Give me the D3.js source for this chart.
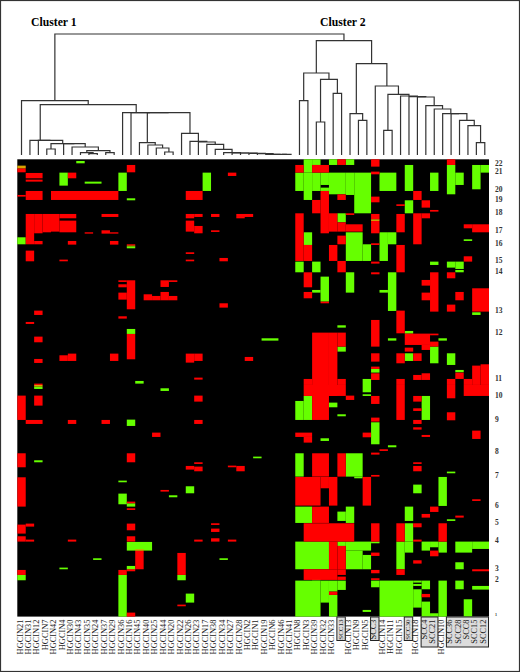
<!DOCTYPE html>
<html>
<head>
<meta charset="utf-8">
<script src="https://cdn.jsdelivr.net/npm/d3@7"></script>
<style>
html, body { margin: 0; padding: 0; background: #fff; }
svg { display: block; }
</style>
</head>
<body>
<div id="chart"></div>
<script>
var sampleLabels = ["HGCIN21","HGCIN31","HGCIN12","HGCIN7","HGCIN42","HGCIN4","HGCIN30","HGCIN43","HGCIN35","HGCIN24",
    "HGCIN37","HGCIN29","HGCIN36","HGCIN16","HGCIN45","HGCIN40","HGCIN25","HGCIN44","HGCIN20","HGCIN22",
    "HGCIN26","HGCIN23","HGCIN17","HGCIN38","HGCIN34","HGCIN27","HGCIN28","HGCIN2","HGCIN1","HGCIN19",
    "HGCIN6","HGCIN46","HGCIN41","HGCIN8","HGCIN3","HGCIN39","HGCIN32","HGCIN33","SCC13","HGCIN13",
    "HGCIN9","HGCIN5","SCC3","HGCIN14","HGCIN11","HGCIN15","SCC30","HGCIN18","SCC4","SCC21",
    "HGCIN10","SCC36","SCC28","SCC8","SCC15","SCC12"];

var chromLabels = ["22","21","20","19","18","17","16","15","14","13","12","11","10","9","8","7","6","5","4","3","2","1"];
var chromProbes = [13,36,90,119,158,213,252,302,336,452,519,657,708,780,877,948,1038,1088,1143,1226,1260,1367];

var clusterNames = ["Cluster 1","Cluster 2"];
var probeCount = 1372;

// [first column, last column, first probe, last probe]
var redLeft = [[13,13,17,39],[0,0,27,39],[1,2,41,57],[1,2,61,67],[6,6,40,57],[25,25,40,50],[0,0,107,112],[1,2,95,122],
    [4,11,95,122],[20,21,95,122],[1,1,164,255],[2,2,164,222],[2,2,245,255],[3,3,164,219],[4,4,164,217],[5,6,164,177],
    [5,6,184,219],[10,11,164,173],[20,20,164,177],[21,21,164,173],[20,20,184,217],[21,21,200,222],[23,23,164,173],
    [26,27,164,173],[26,26,173,177],[8,8,219,223],[10,10,213,223],[11,11,219,223],[23,23,213,218],[6,6,245,256],
    [11,11,245,256],[13,13,255,259],[1,1,274,306],[5,5,301,306],[20,20,279,284],[20,20,301,306],[24,24,296,306],
    [12,12,363,368],[12,12,375,384],[12,12,400,421],[13,13,363,450],[15,15,405,423],[16,16,410,423],[17,17,398,423],
    [18,18,410,423],[17,17,363,383],[18,18,363,368],[24,24,432,445],[2,2,454,467],[12,12,471,478],[1,1,488,494],
    [13,13,524,600],[2,2,532,549],[2,2,599,611],[5,5,588,605],[6,6,583,605],[11,11,583,605],[20,20,583,610],
    [21,21,583,605],[27,27,593,605],[21,21,655,661],[2,2,673,677],
    [0,0,709,782],[2,2,709,739],[1,2,782,794],[6,6,782,794],[10,10,782,794],[21,21,709,727],[21,21,782,794],
    [16,16,820,833],[0,0,882,924],[13,13,882,909],[21,21,909,914],[20,20,920,931],[21,21,922,936],[25,25,919,924],
    [26,26,920,936],[0,0,954,1042],[17,17,992,997],[13,13,1027,1032],[13,13,1047,1052],[0,0,1096,1123],[1,1,1093,1102],
    [13,13,1093,1113],[23,23,1092,1097],[23,23,1108,1118],[23,23,1137,1147],[0,0,1131,1147],[1,1,1141,1147],
    [6,6,1141,1147],[21,21,1141,1147],[25,25,1141,1147],[13,13,1131,1147],[14,14,1174,1230],[19,19,1181,1247],
    [12,12,1232,1247],[13,13,1230,1236],[0,0,1232,1247],[19,19,1336,1341],[13,13,1360,1372]];

var redRight = [[38,38,0,17],[42,42,0,22],[51,51,0,17],[33,33,17,40],[35,36,17,40],[42,42,37,45],[36,36,95,222],
    [35,35,122,162],[37,37,162,217],[38,38,105,122],[38,38,189,217],[39,40,195,217],[33,33,162,305],[34,34,257,305],
    [38,38,229,255],[37,37,257,305],[38,38,305,339],[42,42,112,129],[42,42,164,180],[42,42,185,222],[42,42,252,257],
    [42,42,307,313],[42,42,339,345],[39,39,162,167],[45,45,135,140],[45,45,164,219],[45,45,257,339],[47,47,95,122],
    [48,48,123,145],[47,47,162,255],[48,48,162,177],[49,49,152,157],[53,53,291,307],[53,53,195,207],[54,55,195,219],
    [34,34,339,384],[34,34,398,417],[36,36,427,432],[49,49,339,457],[48,48,362,379],[48,48,400,423],[51,51,339,357],
    [52,52,398,423],[51,51,436,457],[54,55,387,457],[45,45,454,522],[46,48,523,557],[49,49,523,528],[48,48,557,572],
    [49,49,547,562],[46,46,565,577],[42,42,482,562],[35,36,520,782],[37,37,520,710],[38,38,520,562],[42,42,582,607],
    [42,42,622,629],[42,42,642,662],[45,45,582,612],[47,47,582,605],[52,52,640,659],[51,51,659,677],[53,53,659,677],
    [54,54,619,677],[55,55,615,677],[47,47,647,662],[48,48,642,662],[34,34,659,677],[38,38,659,677],[45,45,659,677],
    [34,38,677,710],[45,45,677,782],[51,51,677,717],[53,55,677,710],[39,39,709,722],[42,42,710,734],[42,42,775,787],
    [41,41,820,834],[47,47,710,727],[47,47,747,755],[47,47,782,794],[47,47,804,811],[48,48,827,833],[51,51,759,783],
    [54,54,814,839],[33,34,820,833],[34,34,833,850],[43,43,870,875],[42,42,880,886],[35,36,882,952],[38,38,882,952],
    [42,42,947,952],[47,47,909,914],[47,47,920,936],[33,35,953,1039],[36,36,953,987],[37,37,953,1039],[41,41,953,1039],
    [54,54,1020,1025],[49,49,1042,1058],[48,48,1064,1075],[52,52,1069,1075],[35,36,1042,1091],[47,47,1092,1104],
    [34,39,1092,1147],[42,42,1092,1147],[45,45,1092,1147],[47,47,1141,1147],[50,50,1092,1147],[37,37,1147,1230],
    [38,38,1160,1230],[42,42,1180,1190],[49,49,1174,1191],[47,47,1203,1213],[45,45,1230,1247],[42,42,1232,1242],
    [54,55,1230,1236],[34,37,1230,1262],[38,38,1230,1247],[38,38,1252,1262],[42,42,1257,1262],[37,37,1297,1307],
    [48,48,1304,1314]];

var greenLeft = [[7,7,5,12],[5,5,40,79],[8,9,67,73],[12,12,40,95],[22,22,40,95],[13,13,117,123],[0,0,234,255],
    [13,13,261,267],[13,13,509,524],[14,14,665,673],[2,2,682,689],[17,17,687,695],[13,13,781,800],[2,2,903,909],
    [28,28,892,897],[12,12,964,969],[18,18,1008,1014],[20,20,981,1002],[12,12,1003,1035],[13,13,1032,1042],
    [13,15,1148,1174],[13,13,1220,1231],[19,19,1247,1263],[9,9,1197,1202],[24,24,1197,1202],[5,5,1225,1230],
    [0,0,1247,1263],[12,12,1247,1372],[20,20,1303,1330]];

var greenRight = [[34,34,0,40],[35,35,0,17],[37,37,0,17],[39,39,0,17],[51,51,17,105],[52,52,40,77],[46,46,17,95],
    [54,54,17,90],[55,55,17,40],[33,33,40,95],[34,34,40,122],[35,35,40,95],[36,36,40,77],[36,36,85,95],[37,38,40,105],
    [39,39,40,107],[40,41,40,162],[43,44,40,95],[49,49,40,95],[46,46,123,162],[38,38,162,189],[34,34,219,257],
    [39,40,219,305],[41,41,255,305],[43,43,219,305],[44,44,219,255],[33,33,307,339],[35,35,307,339],[36,36,352,427],
    [35,35,392,400],[39,39,339,400],[44,44,339,455],[43,43,392,400],[49,49,307,317],[51,51,307,325],[52,52,307,329],
    [52,52,332,339],[53,53,240,245],[54,54,459,467],[46,46,515,523],[38,38,498,505],[44,44,537,544],[50,50,537,544],
    [29,30,537,544],[38,38,562,577],[42,42,629,640],[46,46,582,605],[49,49,562,612],[51,51,582,617],[52,52,632,639],
    [41,41,659,699],[41,41,705,710],[33,33,725,782],[34,34,710,782],[37,37,730,744],[38,38,765,771],[48,48,710,782],
    [42,42,789,855],[36,36,837,845],[44,44,858,864],[33,33,882,952],[39,40,882,952],[40,40,952,957],[51,51,937,942],
    [47,47,976,1002],[50,50,953,1040],[33,34,1042,1091],[38,38,1057,1085],[39,39,1042,1091],[46,46,1042,1085],
    [51,51,1080,1085],[46,46,1092,1147],[33,36,1147,1230],[38,38,1147,1160],[39,41,1147,1174],[39,40,1174,1230],
    [41,41,1187,1230],[42,42,1147,1152],[45,45,1147,1230],[46,46,1147,1180],[48,48,1147,1174],[49,49,1147,1164],
    [50,50,1147,1180],[52,53,1147,1180],[54,55,1147,1169],[52,52,1209,1230],[33,35,1264,1372],[36,36,1264,1330],
    [37,37,1264,1297],[37,37,1307,1372],[38,38,1264,1292],[35,35,1247,1263],[41,41,1352,1358],[42,42,1264,1284],
    [43,46,1264,1372],[47,47,1264,1270],[47,47,1274,1280],[47,47,1290,1345],[48,48,1264,1290],[48,48,1327,1372],
    [49,49,1362,1372],[50,50,1264,1372],[52,52,1264,1290],[53,53,1320,1372],[54,55,1280,1291]];

var mixedRuns = [[0,0,19,27],[13,13,259,261],[2,2,677,682],[42,42,180,185],[14,14,1170,1174]];

// merge tree: [height, left, right], a bare number is a column
var chainTail = [5,27,[4,28,[2,29,[2,30,[2,31,32]]]]];
var clusterOne = [163, 0,
    [151,
        [44, 1, [44, 2, [34, [18,3,4], [34, 5, [24, 6, [13, [7, 7, [4,8,9]], [7,10,11]]]]]]],
        [127, 12, [127, 13, [127,
            [37, 14, [30, 15, [21, 16, [9,17,18]]]],
            [65, 19, [41, 20, [39, 21, [32, 22, [17, 23, [7, 24, [6, 25, [6, 26, chainTail]]]]]]]]
        ]]]
    ]];
var clusterTwo = [343,
    [246, [163,33,34], [227, [99,35,36], [185,37,38]]],
    [274, [124, 39, [104,40,41]],
        [207, 42, [182, [74,43,44],
            [177, 45, [175, 46, [174, 47, [148, 48, [138, 49, [124, 50, [124, 51,
                [104, 52, [88, 53, [37,54,55]]]]]]]]]]]]]];
var rootHeight = 363;

// SCC sample boxes: first column, last column
var sccBoxes = [[38,38],[42,42],[46,46],[48,49],[51,55]];

var width = 520, height = 672;
var svg = d3.select("#chart").append("svg")
    .attr("width", width)
    .attr("height", height);

svg.append("rect")
    .attr("x", 0.5).attr("y", 0.5)
    .attr("width", width - 1).attr("height", height - 1)
    .style("fill", "#fff")
    .style("stroke", "#333")
    .style("stroke-width", 1.2);

var x = d3.scaleBand().domain(d3.range(sampleLabels.length)).range([17.3, 489]);
var y = d3.scaleLinear().domain([0, probeCount]).range([159.3, 616.6]);
var h = d3.scaleLinear().domain([0, rootHeight]).range([155, 34]);

// heatmap
svg.append("rect")
    .attr("x", x.range()[0]).attr("y", y(0))
    .attr("width", x.range()[1] - x.range()[0])
    .attr("height", y(probeCount) - y(0))
    .style("fill", "#000");

function drawRuns(runs, colour) {
    svg.append("g").selectAll("rect").data(runs).enter().append("rect")
        .attr("x", function (d) { return x(d[0]); })
        .attr("y", function (d) { return y(d[2]); })
        .attr("width", function (d) { return x(d[1]) + x.bandwidth() - x(d[0]); })
        .attr("height", function (d) { return y(d[3]) - y(d[2]); })
        .style("fill", colour);
}
drawRuns(greenLeft, "#66ff00");
drawRuns(greenRight, "#66ff00");
drawRuns(redLeft, "#ff0000");
drawRuns(redRight, "#ff0000");
drawRuns(mixedRuns, "#d9a400");

// dendrogram
var tree = svg.append("g")
    .style("fill", "none")
    .style("stroke", "#333")
    .style("stroke-width", 1.2);

function branch(node) {
    if (typeof node === "number")
        return { x: x(node) + x.bandwidth() / 2, h: 0 };
    var a = branch(node[1]);
    var b = branch(node[2]);
    tree.append("path")
        .attr("d", d3.line()([[a.x, h(a.h)], [a.x, h(node[0])], [b.x, h(node[0])], [b.x, h(b.h)]]));
    return { x: (a.x + b.x) / 2, h: node[0] };
}
var leftTop = branch(clusterOne);
var rightTop = branch(clusterTwo);
tree.append("path")
    .attr("d", d3.line()([[leftTop.x, h(leftTop.h)], [leftTop.x, h(rootHeight)], [rightTop.x, h(rootHeight)], [rightTop.x, h(rightTop.h)]]));

svg.selectAll("text.cluster").data(clusterNames).enter().append("text")
    .attr("class", "cluster")
    .attr("x", function (d, i) { return i == 0 ? 31 : 320; })
    .attr("y", 26)
    .style("font-family", "'Liberation Serif', serif")
    .style("font-weight", "bold")
    .style("font-size", "11.7px")
    .text(function (d) { return d; });

// sample labels, the SCC ones sit in grey boxes
var labelTop = 618.5;
svg.append("g").selectAll("rect").data(sccBoxes).enter().append("rect")
    .attr("x", function (d) { return x(d[0]) - 0.5; })
    .attr("y", labelTop - 1.5)
    .attr("width", function (d) { return x(d[1]) + x.bandwidth() - x(d[0]); })
    .attr("height", function (d) { return d[1] > d[0] ? 30 : 23.5; })
    .style("fill", "#dcdcdc")
    .style("stroke", "#222")
    .style("stroke-width", 1);

svg.append("g").selectAll("text").data(sampleLabels).enter().append("text")
    .attr("transform", function (d, i) {
        return "translate(" + (x(i) + x.bandwidth() / 2 + 1) + "," + (labelTop + 1) + ") rotate(-90)";
    })
    .style("text-anchor", "end")
    .style("font-family", "'Liberation Serif', serif")
    .style("font-size", function (d) { return d == "SCC13" || d == "SCC30" ? "7px" : "8.4px"; })
    .style("fill", "#222")
    .text(function (d) { return d; });

// chromosome numbers
svg.append("g").selectAll("text").data(chromLabels).enter().append("text")
    .attr("x", 495)
    .attr("y", function (d, i) { return y(chromProbes[i]); })
    .attr("dy", "0.35em")
    .style("font-family", "'Liberation Serif', serif")
    .style("font-weight", "bold")
    .style("font-size", function (d) { return d == "1" ? "4px" : "7.5px"; })
    .style("fill", "#333")
    .text(function (d) { return d; });
</script>
</body>
</html>
